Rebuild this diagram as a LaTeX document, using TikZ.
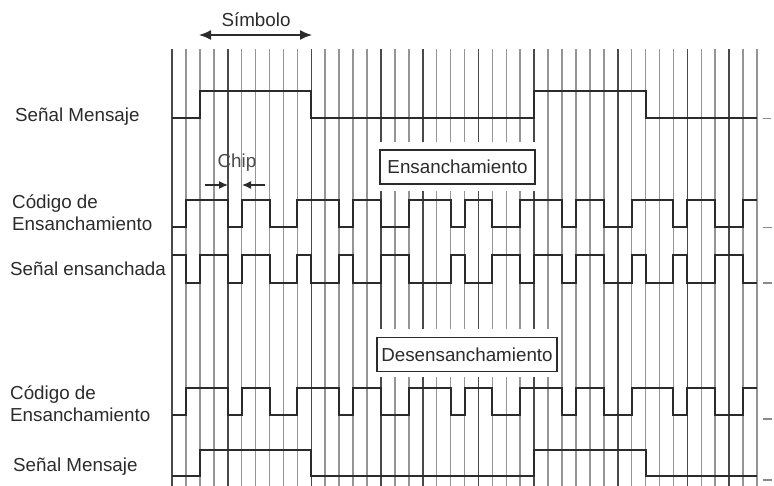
\documentclass[tikz,border=0pt]{standalone}
\usepackage{fontspec}
\setmainfont{Liberation Sans}
\usetikzlibrary{arrows.meta}
\pgfdeclarelayer{bg}
\pgfsetlayers{bg,main}
\definecolor{ink}{HTML}{2B2B2B}
\definecolor{gridlight}{HTML}{959595}
\definecolor{griddark}{HTML}{4A4A4A}
\definecolor{tickgray}{HTML}{8A8A8A}
\newcommand\drawsignal[4]{%
  \draw[sigline] (172,{#1-#3*#2}) \foreach \v [count=\k from 0] in {#4} { -- ({172+\k*13.93},{#1-\v*#2}) -- ({172+(\k+1)*13.93},{#1-\v*#2}) };%
}
\begin{document}
\begin{tikzpicture}[x=1pt,y=-1pt,
  lbl/.style={font=\fontsize{18.8}{22}\selectfont, text=ink, inner sep=0pt, anchor=base west, align=left},
  boxlbl/.style={draw=ink, line width=1.4pt, fill=white, inner sep=0pt, minimum height=34pt, font=\fontsize{18.8}{22}\selectfont, text=ink},
  sigline/.style={draw=ink, line width=2pt},
  gridl/.style={draw=gridlight, line width=1.6pt},
  gridd/.style={draw=griddark, line width=1.6pt},
  endtick/.style={draw=tickgray, line width=1.4pt},
  bigarrow/.style={draw=ink, line width=1.6pt, {Latex[length=12pt,width=10pt]}-{Latex[length=12pt,width=10pt]}},
  chiparrow/.style={draw=ink, line width=1.3pt, -{Latex[length=9pt,width=8pt]}}]
\useasboundingbox (0,0) rectangle (774,486);

% boxes
\node[boxlbl, minimum width=155pt] (ens) at (457.5,167) {Ensanchamiento};
\node[boxlbl, minimum width=180pt] (desens) at (467,354.5) {Desensanchamiento};

% grid of chip boundaries
\begin{pgfonlayer}{bg}
  \foreach \k in {0,...,42} {
    \draw[gridl] ({172+\k*13.93},49) -- ({172+\k*13.93},486);
  }
  \foreach \k in {0,4,10,15,18,22,26,32,37,40} {
    \draw[gridd] ({172+\k*13.93},49) -- ({172+\k*13.93},486);
  }
  \fill[white] ([yshift=7pt]ens.north west) rectangle ([yshift=-6pt]ens.south east);
  \fill[white] ([yshift=8pt]desens.north west) rectangle ([yshift=-5pt]desens.south east);
\end{pgfonlayer}

% labels
\node[lbl] (lmsg1) at (15,122) {Señal Mensaje};
\node[lbl] (lcode1) at (12,231) {Código de\\Ensanchamiento};
\node[lbl] (lspread) at (10,275.5) {Señal ensanchada};
\node[lbl] (lcode2) at (10,421) {Código de\\Ensanchamiento};
\node[lbl] (lmsg2) at (13,471.5) {Señal Mensaje};

% symbol
\node[font=\fontsize{18.8}{22}\selectfont, text=ink, inner sep=0pt] (simb) at (256,20) {Símbolo};
\coordinate (symL) at (199,35);
\coordinate (symR) at (312,35);
\draw[bigarrow] (symL) -- (symR);

% chip
\node[font=\fontsize{18.8}{22}\selectfont, text=ink!85, inner sep=0pt] (chip) at (237,163) {Chip};
\coordinate (chLa) at (205,185);
\coordinate (chLb) at (228,185);
\coordinate (chRa) at (265,185);
\coordinate (chRb) at (242,185);
\draw[chiparrow] (chLa) -- (chLb);
\draw[chiparrow] (chRa) -- (chRb);

% signals
\drawsignal{118.5}{27}{0}{0,0,1,1,1,1,1,1,1,1,0,0,0,0,0,0,0,0,0,0,0,0,0,0,0,0,1,1,1,1,1,1,1,1,0,0,0,0,0,0,0,0}
\drawsignal{227.5}{27.5}{0}{0,1,1,1,0,1,1,0,0,1,1,1,0,1,1,0,0,1,1,1,0,1,1,0,0,1,1,1,0,1,1,0,0,1,1,1,0,1,1,0,0,1}
\drawsignal{283}{28}{1}{1,0,1,1,0,1,1,0,0,1,0,0,1,0,0,1,1,0,0,0,1,0,0,1,1,0,1,1,0,1,1,0,0,1,0,0,1,0,0,1,1,0}
\drawsignal{414.5}{26.5}{0}{0,1,1,1,0,1,1,0,0,1,1,1,0,1,1,0,0,1,1,1,0,1,1,0,0,1,1,1,0,1,1,0,0,1,1,1,0,1,1,0,0,1}
\drawsignal{476}{26}{0}{0,0,1,1,1,1,1,1,1,1,0,0,0,0,0,0,0,0,0,0,0,0,0,0,0,0,1,1,1,1,1,1,1,1,0,0,0,0,0,0,0,0}

% end ticks
\draw[endtick] (763,118.5) -- (771,118.5);
\draw[endtick] (763,227.5) -- (772,227.5);
\draw[endtick] (763,283) -- (772,283);
\draw[endtick] (763,419) -- (772,419);
\draw[endtick] (763,480) -- (772,480);
\end{tikzpicture}
\end{document}
